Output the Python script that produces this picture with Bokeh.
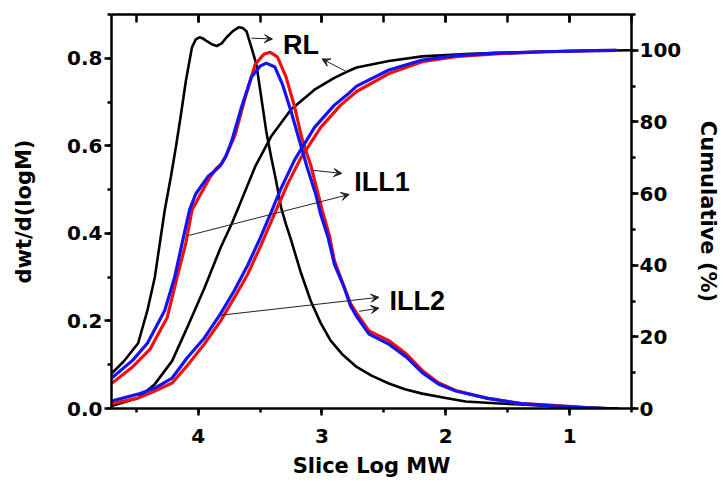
from bokeh.plotting import figure
from bokeh.models import (Range1d, LinearAxis, SingleIntervalTicker, PrintfTickFormatter,
                          Arrow, VeeHead, Label)
from bokeh.embed import file_html
from bokeh.resources import INLINE

# ---------------- data ----------------
rl_dist_x = [4.70, 4.60, 4.485, 4.41, 4.35, 4.31, 4.27, 4.22, 4.18, 4.14, 4.10, 4.05, 4.02, 3.99,
             3.96, 3.93, 3.89, 3.85, 3.81, 3.77, 3.72, 3.67, 3.64, 3.61, 3.57, 3.53, 3.49, 3.45,
             3.41, 3.37, 3.33, 3.29, 3.25, 3.17, 3.09, 3.01, 2.93, 2.83, 2.72, 2.60, 2.46, 2.33,
             2.19, 2.00, 1.84, 1.60, 1.40, 1.13, 0.90, 0.60]
rl_dist_y = [0.080, 0.108, 0.149, 0.224, 0.300, 0.377, 0.453, 0.530, 0.597, 0.670, 0.747, 0.825,
             0.843, 0.848, 0.845, 0.839, 0.832, 0.828, 0.834, 0.848, 0.862, 0.871, 0.869, 0.862,
             0.825, 0.786, 0.710, 0.633, 0.574, 0.519, 0.459, 0.420, 0.385, 0.310, 0.245, 0.195,
             0.155, 0.122, 0.095, 0.075, 0.057, 0.044, 0.034, 0.024, 0.016, 0.012, 0.009, 0.005,
             0.002, 0.0]

ill1_dist_x = [4.70, 4.53, 4.39, 4.25, 4.17, 4.10, 4.05, 3.99, 3.95, 3.90, 3.86, 3.81, 3.77, 3.70,
               3.62, 3.54, 3.47, 3.42, 3.36, 3.29, 3.22, 3.16, 3.09, 3.04, 3.00, 2.94, 2.90, 2.83,
               2.77, 2.72, 2.62, 2.46, 2.32, 2.19, 2.06, 1.92, 1.66, 1.39, 1.13, 0.87, 0.71]
ill1_dist_y = [0.057, 0.095, 0.135, 0.208, 0.300, 0.377, 0.453, 0.485, 0.505, 0.530, 0.546, 0.560,
               0.580, 0.626, 0.710, 0.786, 0.809, 0.814, 0.803, 0.757, 0.688, 0.615, 0.555, 0.500,
               0.455, 0.395, 0.338, 0.285, 0.240, 0.218, 0.177, 0.155, 0.125, 0.087, 0.059, 0.041,
               0.023, 0.011, 0.007, 0.002, 0.0]

ill2_dist_x = [4.70, 4.53, 4.41, 4.27, 4.19, 4.13, 4.07, 4.02, 3.97, 3.92, 3.87, 3.82, 3.78, 3.73,
               3.65, 3.57, 3.50, 3.45, 3.38, 3.32, 3.25, 3.18, 3.12, 3.05, 3.01, 2.95, 2.90, 2.82,
               2.77, 2.72, 2.62, 2.46, 2.32, 2.19, 2.06, 1.92, 1.66, 1.39, 1.13, 0.87, 0.70]
ill2_dist_y = [0.069, 0.110, 0.149, 0.224, 0.300, 0.377, 0.453, 0.490, 0.510, 0.530, 0.542, 0.555,
               0.574, 0.610, 0.688, 0.757, 0.782, 0.789, 0.780, 0.741, 0.679, 0.610, 0.551, 0.489,
               0.443, 0.390, 0.330, 0.276, 0.235, 0.210, 0.170, 0.147, 0.118, 0.082, 0.056, 0.040,
               0.023, 0.011, 0.006, 0.002, 0.0]

rl_cum_x = [4.70, 4.485, 4.35, 4.21, 4.09, 3.95, 3.82, 3.73, 3.67, 3.54, 3.41, 3.25, 3.06, 2.90,
            2.80, 2.72, 2.46, 2.19, 1.80, 1.50, 1.00, 0.50]
rl_cum_y = [0.7, 2.9, 6.8, 13.3, 22.5, 33.6, 44.8, 51.5, 56.5, 67.5, 76.0, 83.5, 89.0, 92.3,
            94.0, 95.2, 97.0, 98.3, 99.0, 99.4, 99.8, 100.0]

ill1_cum_x = [4.70, 4.485, 4.35, 4.21, 4.09, 3.95, 3.82, 3.71, 3.60, 3.50, 3.40, 3.28, 3.17, 3.01,
              2.85, 2.72, 2.46, 2.19, 1.92, 1.60, 1.20, 0.80, 0.62]
ill1_cum_y = [1.3, 2.9, 4.9, 7.1, 11.9, 18.0, 24.4, 30.8, 37.5, 45.0, 53.0, 62.5, 70.0, 78.5,
              84.7, 88.5, 93.5, 96.8, 98.2, 99.0, 99.6, 99.9, 100.0]

ill2_cum_x = [4.70, 4.485, 4.35, 4.21, 4.09, 3.95, 3.82, 3.71, 3.60, 3.50, 3.41, 3.33, 3.22, 3.06,
              2.90, 2.80, 2.72, 2.46, 2.19, 1.92, 1.60, 1.20, 0.80, 0.62]
ill2_cum_y = [2.1, 4.0, 5.7, 8.5, 14.1, 19.7, 26.4, 32.8, 40.0, 47.5, 54.8, 61.5, 69.5, 78.5,
              84.7, 87.5, 90.0, 94.5, 97.3, 98.5, 99.2, 99.6, 99.9, 100.0]

x_label = "Slice Log MW"
y_label = "dwt/d(logM)"
y2_label = "Cumulative (%)"

# ---------------- figure ----------------
TICK_FONT = "DejaVu Sans"
p = figure(width=723, height=483, x_range=Range1d(4.7, 0.5), y_range=Range1d(0, 0.9),
           output_backend="svg", toolbar_location=None,
           min_border_left=111, min_border_right=85, min_border_top=14, min_border_bottom=75,
           x_axis_location=None, y_axis_location=None)
p.extra_y_ranges = {"cum": Range1d(0, 110)}
p.grid.visible = False
p.outline_line_color = None
p.background_fill_color = "white"
p.border_fill_color = "white"


def style_axis(ax):
    ax.axis_line_width = 2.5
    ax.axis_line_color = "black"
    ax.major_tick_line_width = 2.5
    ax.minor_tick_line_width = 2.5
    ax.major_tick_line_color = "black"
    ax.minor_tick_line_color = "black"
    ax.major_label_text_font = TICK_FONT
    ax.major_label_text_font_style = "bold"
    ax.major_label_text_font_size = "20px"
    ax.major_label_text_color = "black"
    ax.axis_label_text_font = TICK_FONT
    ax.axis_label_text_font_style = "bold"
    ax.axis_label_text_font_size = "21px"
    ax.axis_label_text_color = "black"


xb = LinearAxis(ticker=SingleIntervalTicker(interval=1, num_minor_ticks=2), axis_label=x_label)
style_axis(xb)
xb.major_tick_out = 7
xb.major_tick_in = 0
xb.minor_tick_out = 4
xb.minor_tick_in = 0
xb.major_label_standoff = 13
xb.axis_label_standoff = 8
p.add_layout(xb, "below")

xt = LinearAxis(ticker=SingleIntervalTicker(interval=1, num_minor_ticks=2))
style_axis(xt)
xt.major_tick_out = 0
xt.major_tick_in = 8
xt.minor_tick_out = 0
xt.minor_tick_in = 8
xt.major_label_text_color = None
xt.major_label_standoff = 0
p.add_layout(xt, "above")

yl = LinearAxis(ticker=SingleIntervalTicker(interval=0.2, num_minor_ticks=2),
                formatter=PrintfTickFormatter(format="%.1f"), axis_label=y_label)
style_axis(yl)
yl.major_tick_out = 7
yl.major_tick_in = 0
yl.minor_tick_out = 4
yl.minor_tick_in = 0
yl.major_label_standoff = 2
yl.axis_label_standoff = 28
p.add_layout(yl, "left")

yr = LinearAxis(y_range_name="cum", ticker=SingleIntervalTicker(interval=20, num_minor_ticks=2),
                axis_label=y2_label)
style_axis(yr)
yr.major_tick_out = 7
yr.major_tick_in = 0
yr.minor_tick_out = 4
yr.minor_tick_in = 0
yr.major_label_standoff = 1
yr.axis_label_standoff = 12
p.add_layout(yr, "right")

# ---------------- curves ----------------
RED = "#f01010"
BLUE = "#1414f0"
p.line(rl_dist_x, rl_dist_y, line_color="black", line_width=2.6)
p.line(rl_cum_x, rl_cum_y, y_range_name="cum", line_color="black", line_width=2.6)
p.line(ill1_dist_x, ill1_dist_y, line_color=RED, line_width=3.2)
p.line(ill1_cum_x, ill1_cum_y, y_range_name="cum", line_color=RED, line_width=3.2)
p.line(ill2_dist_x, ill2_dist_y, line_color=BLUE, line_width=3.2)
p.line(ill2_cum_x, ill2_cum_y, y_range_name="cum", line_color=BLUE, line_width=3.2)

# ---------------- annotations ----------------
def arrow(x0, y0, x1, y1, rng="default"):
    head = VeeHead(size=8, line_color="#222222", fill_color="#222222", line_width=1)
    p.add_layout(Arrow(end=head, x_start=x0, y_start=y0, x_end=x1, y_end=y1,
                       line_color="#222222", line_width=1, y_range_name=rng))


arrow(3.57, 0.846, 3.40, 0.844)
arrow(2.815, 94.3, 3.00, 97.6, "cum")
arrow(3.07, 0.544, 2.84, 0.537)
arrow(4.08, 0.395, 2.78, 0.489)
arrow(3.82, 0.213, 2.54, 0.254)
arrow(2.70, 0.222, 2.54, 0.229)

for txt, lx, ly in [("RL", 3.315, 0.830), ("ILL1", 2.74, 0.517), ("ILL2", 2.455, 0.245)]:
    p.add_layout(Label(x=lx, y=ly, text=txt, text_font="Liberation Sans",
                       text_font_style="bold", text_font_size="27px", text_color="black",
                       text_baseline="alphabetic", text_align="left"))

open("out.html", "w").write(file_html(p, INLINE))
